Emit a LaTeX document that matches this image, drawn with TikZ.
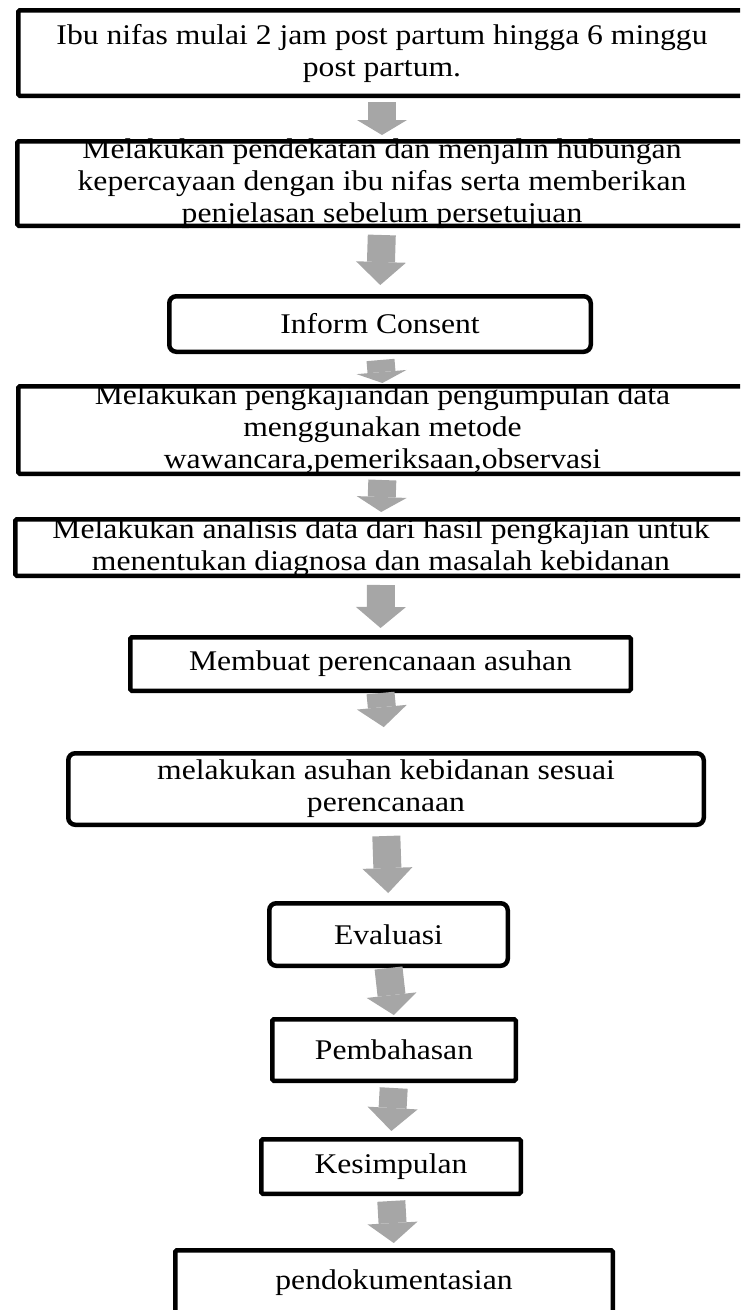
\documentclass[tikz,border=0pt]{standalone}
\usepackage{fontspec}
\setmainfont{Liberation Serif}[FakeStretch=1.11]
\usetikzlibrary{arrows.meta}
\definecolor{Abu}{HTML}{A6A6A6}
\tikzset{kotak/.style={draw=black,line width=4.5pt,rounded corners=1.5pt,align=center,inner xsep=4pt,inner ysep=-30pt,font=\fontsize{28.5}{32}\selectfont},
bulat/.style={kotak,rounded corners=7pt},
panah/.style={-{Triangle[width=50pt,length=#1,line width=0pt]},line width=28pt,draw=Abu,shorten <=5pt,shorten >=5pt},panah/.default=20pt}

\begin{document}
\begin{tikzpicture}[x=1pt,y=-1pt]
\useasboundingbox (0,0) rectangle (740,1310);
\clip (0,0) rectangle (740,1310);
\node[kotak,minimum width=727.5,minimum height=85.5] (a) at (382,53) {Ibu nifas mulai 2 jam post partum hingga 6 minggu\\post partum.};
\node[kotak,minimum width=729.5,minimum height=84.5] (b) at (382,183.5) {Melakukan pendekatan dan menjalin hubungan\\kepercayaan dengan ibu nifas serta memberikan\\penjelasan sebelum persetujuan};
\node[bulat,minimum width=421.5,minimum height=55.5] (c) at (380,324) {Inform Consent};
\node[kotak,minimum width=728.5,minimum height=87.5] (d) at (382.5,430) {Melakukan pengkajiandan pengumpulan data\\menggunakan metode\\wawancara,pemeriksaan,observasi};
\node[kotak,minimum width=731.5,minimum height=56.5] (e) at (381,547.5) {Melakukan analisis data dari hasil pengkajian untuk\\menentukan diagnosa dan masalah kebidanan};
\node[kotak,minimum width=500.5,minimum height=53.5] (f) at (380.5,664) {Membuat perencanaan asuhan};
\node[bulat,minimum width=635.5,minimum height=71.5] (g) at (386,789) {melakukan asuhan kebidanan sesuai\\perencanaan};
\node[bulat,minimum width=238.5,minimum height=62.5] (h) at (388.5,934.5) {Evaluasi};
\node[kotak,minimum width=243.5,minimum height=61.5] (i) at (394,1050) {Pembahasan};
\node[kotak,minimum width=259.5,minimum height=54.5] (j) at (391,1166.5) {Kesimpulan};
\node[kotak,minimum width=437.5,minimum height=65.5] (k) at (394,1283) {pendokumentasian};
\draw[panah=15pt,shorten <=4pt,shorten >=4pt] (a.south) -- (b.north);
\draw[panah=23pt,shorten <=7pt,shorten >=9pt] (b.south) -- (c.north);
\draw[panah=11pt,shorten <=6pt,shorten >=1pt] (c.south) -- (d.north);
\draw[panah=15pt,shorten <=4pt] (d.south) -- (e.north);
\draw[panah=21pt,shorten <=7pt,shorten >=7pt] (e.south) -- (f.north);
\draw[panah,shorten <=0pt,shorten >=24pt] (f.south) -- (g.north);
\draw[panah=25pt,shorten <=9pt,shorten >=8pt] (g.south) -- (h.north);
\draw[panah,shorten <=0pt,shorten >=2pt] (h.south) -- (i.north);
\draw[panah=23pt,shorten >=6pt] (i.south) -- (j.north);
\draw[panah] (j.south) -- (k.north);
\end{tikzpicture}
\end{document}
